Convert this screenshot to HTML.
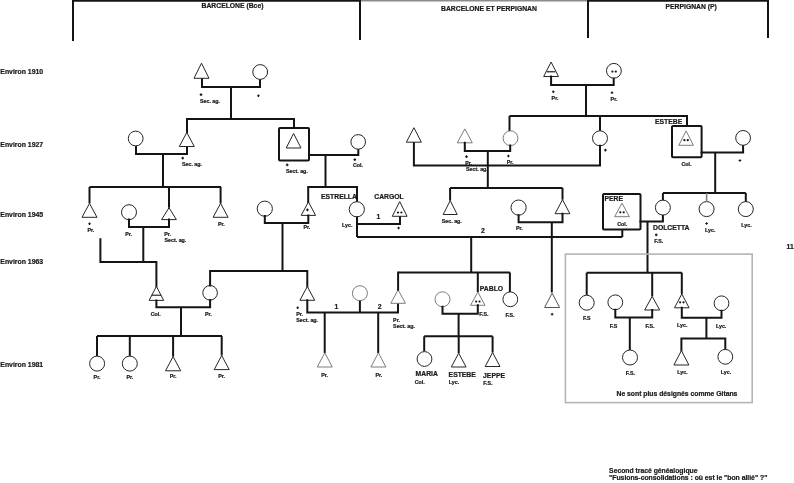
<!DOCTYPE html>
<html><head><meta charset="utf-8"><style>
html,body{margin:0;padding:0;background:#fff;}
svg{display:block;filter:grayscale(1);}
text{font-family:"Liberation Sans",sans-serif;stroke:#1a1a1a;stroke-width:0.22px;}
</style></head><body>
<svg width="794" height="483" viewBox="0 0 794 483">
<rect width="794" height="483" fill="#fff"/>
<line x1="72" y1="0.8" x2="360" y2="0.8" stroke="#141414" stroke-width="1.7"/>
<line x1="360" y1="0.8" x2="588" y2="0.8" stroke="#8c8c8c" stroke-width="1.5"/>
<line x1="588" y1="0.8" x2="769" y2="0.8" stroke="#141414" stroke-width="1.7"/>
<line x1="73" y1="0" x2="73" y2="41" stroke="#141414" stroke-width="2"/>
<line x1="360" y1="0" x2="360" y2="40" stroke="#141414" stroke-width="2"/>
<line x1="588" y1="0" x2="588" y2="38" stroke="#141414" stroke-width="2"/>
<line x1="768" y1="0" x2="768" y2="38" stroke="#141414" stroke-width="2"/>
<text x="201.5" y="8.2" font-size="6.8" fill="#1a1a1a" font-weight="bold" text-anchor="start">BARCELONE (Bce)</text>
<text x="441" y="10.6" font-size="6.8" fill="#1a1a1a" font-weight="bold" text-anchor="start">BARCELONE ET PERPIGNAN</text>
<text x="665.5" y="8.7" font-size="6.8" fill="#1a1a1a" font-weight="bold" text-anchor="start">PERPIGNAN (P)</text>
<text x="0.3" y="74" font-size="6.9" fill="#1a1a1a" font-weight="bold" text-anchor="start">Environ 1910</text>
<text x="0.3" y="146.5" font-size="6.9" fill="#1a1a1a" font-weight="bold" text-anchor="start">Environ 1927</text>
<text x="0.3" y="217" font-size="6.9" fill="#1a1a1a" font-weight="bold" text-anchor="start">Environ 1945</text>
<text x="0.3" y="264" font-size="6.9" fill="#1a1a1a" font-weight="bold" text-anchor="start">Environ 1963</text>
<text x="0.3" y="366.7" font-size="6.9" fill="#1a1a1a" font-weight="bold" text-anchor="start">Environ 1981</text>
<polyline points="202,78 202,87 260,87 260,79.5" fill="none" stroke="#141414" stroke-width="2" stroke-linejoin="miter" stroke-linecap="square"/>
<line x1="231" y1="87" x2="231" y2="119" stroke="#141414" stroke-width="2"/>
<polygon points="201.5,63.2 194.0,78.3 209.0,78.3" fill="white" stroke="#262626" stroke-width="1.0" stroke-linejoin="miter"/>
<circle cx="260.2" cy="72" r="7.4" fill="white" stroke="#262626" stroke-width="1.0"/>
<path d="M199.7 94.6H202.3M201 93.3V95.89999999999999" stroke="#141414" stroke-width="1.1"/>
<text x="200" y="103.3" font-size="5.3" fill="#1a1a1a" font-weight="bold" text-anchor="start">Sec. ag.</text>
<path d="M257.09999999999997 95.8H259.7M258.4 94.5V97.1" stroke="#141414" stroke-width="1.1"/>
<polyline points="187,132.5 187,119 294,119 294,127.5" fill="none" stroke="#141414" stroke-width="2" stroke-linejoin="miter" stroke-linecap="square"/>
<polyline points="136,146 136,154 187,154 187,146.5" fill="none" stroke="#141414" stroke-width="2" stroke-linejoin="miter" stroke-linecap="square"/>
<line x1="163" y1="154" x2="163" y2="187" stroke="#141414" stroke-width="2"/>
<polygon points="186.8,132.5 179.3,146.5 194.3,146.5" fill="white" stroke="#262626" stroke-width="1.0" stroke-linejoin="miter"/>
<circle cx="135.7" cy="138.5" r="7.4" fill="white" stroke="#262626" stroke-width="1.0"/>
<path d="M181.39999999999998 158.1H184.0M182.7 156.79999999999998V159.4" stroke="#141414" stroke-width="1.1"/>
<text x="182" y="165.8" font-size="5.3" fill="#1a1a1a" font-weight="bold" text-anchor="start">Sec. ag.</text>
<rect x="279" y="128" width="30" height="32.5" rx="1" fill="white" stroke="#141414" stroke-width="2"/>
<polygon points="293.6,133.5 286.20000000000005,148 301.0,148" fill="white" stroke="#262626" stroke-width="1.0" stroke-linejoin="miter"/>
<polyline points="309,155 358.3,155 358.3,149" fill="none" stroke="#141414" stroke-width="2" stroke-linejoin="miter" stroke-linecap="square"/>
<circle cx="358.2" cy="141.9" r="7.3" fill="white" stroke="#262626" stroke-width="1.0"/>
<line x1="325.5" y1="155" x2="325.5" y2="187" stroke="#141414" stroke-width="2"/>
<path d="M285.9 164.9H288.5M287.2 163.6V166.20000000000002" stroke="#141414" stroke-width="1.1"/>
<text x="286" y="173.3" font-size="5.3" fill="#1a1a1a" font-weight="bold" text-anchor="start">Sect. ag.</text>
<path d="M353.5 159.6H356.1M354.8 158.29999999999998V160.9" stroke="#141414" stroke-width="1.1"/>
<text x="353" y="167.2" font-size="5.3" fill="#1a1a1a" font-weight="bold" text-anchor="start">Col.</text>
<line x1="89.5" y1="187" x2="221" y2="187" stroke="#141414" stroke-width="2"/>
<line x1="89.5" y1="187" x2="89.5" y2="203.4" stroke="#141414" stroke-width="2"/>
<polygon points="89.5,203.4 82.0,217.3 97.0,217.3" fill="white" stroke="#262626" stroke-width="1.0" stroke-linejoin="miter"/>
<path d="M88.2 223.8H90.8M89.5 222.5V225.10000000000002" stroke="#141414" stroke-width="1.1"/>
<text x="87.5" y="231.9" font-size="5.3" fill="#1a1a1a" font-weight="bold" text-anchor="start">Pr.</text>
<circle cx="129" cy="212.2" r="7.5" fill="white" stroke="#262626" stroke-width="1.0"/>
<line x1="169" y1="187" x2="169" y2="207.7" stroke="#141414" stroke-width="2"/>
<polygon points="169,207.7 161.6,219.6 176.4,219.6" fill="white" stroke="#262626" stroke-width="1.0" stroke-linejoin="miter"/>
<line x1="220.6" y1="187" x2="220.6" y2="203.4" stroke="#141414" stroke-width="2"/>
<polygon points="220.6,203.4 213.1,217.3 228.1,217.3" fill="white" stroke="#262626" stroke-width="1.0" stroke-linejoin="miter"/>
<text x="217.9" y="226.2" font-size="5.3" fill="#1a1a1a" font-weight="bold" text-anchor="start">Pr.</text>
<polyline points="129,219.6 129,227 169,227 169,219.6" fill="none" stroke="#141414" stroke-width="2" stroke-linejoin="miter" stroke-linecap="square"/>
<line x1="143.3" y1="227" x2="143.3" y2="262" stroke="#141414" stroke-width="2"/>
<text x="125.2" y="235.9" font-size="5.3" fill="#1a1a1a" font-weight="bold" text-anchor="start">Pr.</text>
<text x="164.2" y="235.9" font-size="5.3" fill="#1a1a1a" font-weight="bold" text-anchor="start">Pr.</text>
<text x="164.5" y="242" font-size="5.3" fill="#1a1a1a" font-weight="bold" text-anchor="start">Sect. ag.</text>
<polyline points="100.4,239.3 100.4,262 156.4,262 156.4,286.4" fill="none" stroke="#141414" stroke-width="2" stroke-linejoin="miter" stroke-linecap="square"/>
<polyline points="308.2,201.9 308.2,187 357,187 357,201.5" fill="none" stroke="#141414" stroke-width="2" stroke-linejoin="miter" stroke-linecap="square"/>
<circle cx="264.8" cy="208.7" r="7.6" fill="white" stroke="#262626" stroke-width="1.0"/>
<polygon points="308.4,201.9 301.2,215.4 315.59999999999997,215.4" fill="white" stroke="#262626" stroke-width="1.0" stroke-linejoin="miter"/>
<path d="M306.09999999999997 209.9H308.7M307.4 208.6V211.20000000000002" stroke="#141414" stroke-width="1.1"/>
<polyline points="264.8,216 264.8,223 308.3,223 308.3,215.4" fill="none" stroke="#141414" stroke-width="2" stroke-linejoin="miter" stroke-linecap="square"/>
<line x1="282.5" y1="223" x2="282.5" y2="271" stroke="#141414" stroke-width="2"/>
<text x="321" y="198.9" font-size="6.8" fill="#1a1a1a" font-weight="bold" text-anchor="start">ESTRELLA</text>
<circle cx="356.8" cy="209.3" r="7.6" fill="white" stroke="#262626" stroke-width="1.0"/>
<text x="303.5" y="229.2" font-size="5.3" fill="#1a1a1a" font-weight="bold" text-anchor="start">Pr.</text>
<text x="342" y="226.5" font-size="5.3" fill="#1a1a1a" font-weight="bold" text-anchor="start">Lyc.</text>
<line x1="357" y1="216.5" x2="357" y2="237" stroke="#141414" stroke-width="2"/>
<polyline points="357,224 400,224 400,216" fill="none" stroke="#141414" stroke-width="2" stroke-linejoin="miter" stroke-linecap="square"/>
<polygon points="399.7,201.6 392.3,216.3 407.09999999999997,216.3" fill="white" stroke="#262626" stroke-width="1.0" stroke-linejoin="miter"/>
<circle cx="398.0" cy="212.5" r="1.1" fill="#141414"/><circle cx="401.4" cy="212.5" r="1.1" fill="#141414"/>
<text x="374.3" y="198.9" font-size="6.8" fill="#1a1a1a" font-weight="bold" text-anchor="start">CARGOL</text>
<text x="378.5" y="219.3" font-size="6.8" fill="#1a1a1a" font-weight="bold" text-anchor="middle">1</text>
<path d="M397.3 228H399.90000000000003M398.6 226.7V229.3" stroke="#141414" stroke-width="1.1"/>
<line x1="357" y1="237" x2="622.3" y2="237" stroke="#141414" stroke-width="2"/>
<text x="483" y="233" font-size="6.8" fill="#1a1a1a" font-weight="bold" text-anchor="middle">2</text>
<polygon points="156.4,286.4 149.1,300.4 163.70000000000002,300.4" fill="white" stroke="#262626" stroke-width="1.0" stroke-linejoin="miter"/>
<line x1="151.7" y1="295.2" x2="161.1" y2="295.2" stroke="#141414" stroke-width="1.1"/>
<circle cx="210.1" cy="292.8" r="7.3" fill="white" stroke="#262626" stroke-width="1.0"/>
<polyline points="156.4,300.4 156.4,307.3 210.1,307.3 210.1,300" fill="none" stroke="#141414" stroke-width="2" stroke-linejoin="miter" stroke-linecap="square"/>
<line x1="181" y1="307.3" x2="181" y2="336" stroke="#141414" stroke-width="2"/>
<polyline points="210.1,285.5 210.1,271 307.3,271 307.3,286.5" fill="none" stroke="#141414" stroke-width="2" stroke-linejoin="miter" stroke-linecap="square"/>
<text x="150.8" y="315.5" font-size="5.3" fill="#1a1a1a" font-weight="bold" text-anchor="start">Col.</text>
<text x="205" y="315.8" font-size="5.3" fill="#1a1a1a" font-weight="bold" text-anchor="start">Pr.</text>
<polygon points="307.3,286.5 299.90000000000003,300.3 314.7,300.3" fill="white" stroke="#262626" stroke-width="1.0" stroke-linejoin="miter"/>
<polyline points="307.3,300.3 307.3,312.6 398,312.6 398,303.3" fill="none" stroke="#141414" stroke-width="2" stroke-linejoin="miter" stroke-linecap="square"/>
<circle cx="359.9" cy="293.2" r="7.5" fill="white" stroke="#7c7c7c" stroke-width="1.0"/>
<line x1="359.9" y1="300.7" x2="359.9" y2="312.6" stroke="#141414" stroke-width="2"/>
<polygon points="398.1,289.7 390.8,303.3 405.40000000000003,303.3" fill="white" stroke="#7c7c7c" stroke-width="1.0" stroke-linejoin="miter"/>
<polyline points="398.1,289.7 398.1,272.6" fill="none" stroke="#141414" stroke-width="2" stroke-linejoin="miter" stroke-linecap="square"/>
<text x="336.4" y="309.4" font-size="6.8" fill="#1a1a1a" font-weight="bold" text-anchor="middle">1</text>
<text x="379.6" y="308.7" font-size="6.8" fill="#1a1a1a" font-weight="bold" text-anchor="middle">2</text>
<path d="M296.4 307.8H299.0M297.7 306.5V309.1" stroke="#141414" stroke-width="1.1"/>
<text x="296.3" y="315.5" font-size="5.3" fill="#1a1a1a" font-weight="bold" text-anchor="start">Pr.</text>
<text x="296.3" y="321.5" font-size="5.3" fill="#1a1a1a" font-weight="bold" text-anchor="start">Sect. ag.</text>
<text x="393.1" y="322" font-size="5.3" fill="#1a1a1a" font-weight="bold" text-anchor="start">Pr.</text>
<text x="393.1" y="328" font-size="5.3" fill="#1a1a1a" font-weight="bold" text-anchor="start">Sect. ag.</text>
<line x1="324.7" y1="312.6" x2="324.7" y2="353.1" stroke="#141414" stroke-width="2"/>
<line x1="378.2" y1="312.6" x2="378.2" y2="353.1" stroke="#141414" stroke-width="2"/>
<polygon points="324.8,352.8 317.3,367 332.3,367" fill="white" stroke="#7c7c7c" stroke-width="1.0" stroke-linejoin="miter"/>
<polygon points="378.4,352.8 370.9,367 385.9,367" fill="white" stroke="#7c7c7c" stroke-width="1.0" stroke-linejoin="miter"/>
<text x="321.3" y="377" font-size="5.3" fill="#1a1a1a" font-weight="bold" text-anchor="start">Pr.</text>
<text x="375.5" y="377" font-size="5.3" fill="#1a1a1a" font-weight="bold" text-anchor="start">Pr.</text>
<line x1="97" y1="336" x2="222" y2="336" stroke="#141414" stroke-width="2"/>
<line x1="97" y1="336" x2="97" y2="356" stroke="#141414" stroke-width="2"/>
<line x1="129.8" y1="336" x2="129.8" y2="356" stroke="#141414" stroke-width="2"/>
<line x1="173.1" y1="336" x2="173.1" y2="356.5" stroke="#141414" stroke-width="2"/>
<line x1="221.7" y1="336" x2="221.7" y2="355.5" stroke="#141414" stroke-width="2"/>
<circle cx="97.1" cy="363.6" r="7.5" fill="white" stroke="#262626" stroke-width="1.0"/>
<circle cx="129.8" cy="363.6" r="7.5" fill="white" stroke="#262626" stroke-width="1.0"/>
<polygon points="173.1,356.5 165.5,370.8 180.7,370.8" fill="white" stroke="#262626" stroke-width="1.0" stroke-linejoin="miter"/>
<polygon points="221.7,355.5 214.2,369.6 229.2,369.6" fill="white" stroke="#262626" stroke-width="1.0" stroke-linejoin="miter"/>
<text x="97" y="378.6" font-size="5.3" fill="#1a1a1a" font-weight="bold" text-anchor="middle">Pr.</text>
<text x="129.8" y="379.3" font-size="5.3" fill="#1a1a1a" font-weight="bold" text-anchor="middle">Pr.</text>
<text x="173.2" y="378.2" font-size="5.3" fill="#1a1a1a" font-weight="bold" text-anchor="middle">Pr.</text>
<text x="221.7" y="378.2" font-size="5.3" fill="#1a1a1a" font-weight="bold" text-anchor="middle">Pr.</text>
<polygon points="551.1,62 543.7,76.5 558.5,76.5" fill="white" stroke="#262626" stroke-width="1.0" stroke-linejoin="miter"/>
<line x1="546.9" y1="71.7" x2="555.3" y2="71.7" stroke="#444" stroke-width="1.5"/>
<circle cx="613.9" cy="70.8" r="7.4" fill="white" stroke="#262626" stroke-width="1.0"/>
<circle cx="612.4" cy="71.6" r="1.1" fill="#141414"/><circle cx="615.8000000000001" cy="71.6" r="1.1" fill="#141414"/>
<polyline points="551.1,76.5 551.1,85 613.7,85 613.7,78.8" fill="none" stroke="#141414" stroke-width="2" stroke-linejoin="miter" stroke-linecap="square"/>
<line x1="586" y1="85" x2="586" y2="116" stroke="#141414" stroke-width="2"/>
<path d="M552.0 91.8H554.5999999999999M553.3 90.5V93.1" stroke="#141414" stroke-width="1.1"/>
<text x="551.6" y="100.4" font-size="5.3" fill="#1a1a1a" font-weight="bold" text-anchor="start">Pr.</text>
<path d="M610.7 92.8H613.3M612 91.5V94.1" stroke="#141414" stroke-width="1.1"/>
<text x="610.6" y="101.3" font-size="5.3" fill="#1a1a1a" font-weight="bold" text-anchor="start">Pr.</text>
<line x1="509.5" y1="116" x2="688" y2="116" stroke="#141414" stroke-width="2"/>
<polygon points="413.9,127.7 406.4,142.2 421.4,142.2" fill="white" stroke="#262626" stroke-width="1.0" stroke-linejoin="miter"/>
<line x1="413.9" y1="142.2" x2="413.9" y2="165.5" stroke="#141414" stroke-width="2"/>
<polygon points="464.8,128.9 457.3,142.8 472.3,142.8" fill="white" stroke="#7c7c7c" stroke-width="1.0" stroke-linejoin="miter"/>
<circle cx="510.5" cy="138.2" r="7.4" fill="white" stroke="#7c7c7c" stroke-width="1.0"/>
<line x1="509.5" y1="116" x2="509.5" y2="130.8" stroke="#141414" stroke-width="2"/>
<polyline points="464.8,142.8 464.8,151 510.2,151 510.2,145.6" fill="none" stroke="#141414" stroke-width="2" stroke-linejoin="miter" stroke-linecap="square"/>
<line x1="487.8" y1="151" x2="487.8" y2="188" stroke="#141414" stroke-width="2"/>
<circle cx="600" cy="138.3" r="7.5" fill="white" stroke="#262626" stroke-width="1.0"/>
<line x1="600" y1="116" x2="600" y2="130.8" stroke="#141414" stroke-width="2"/>
<polyline points="413.9,165.5 600,165.5 600,145.8" fill="none" stroke="#141414" stroke-width="2" stroke-linejoin="miter" stroke-linecap="square"/>
<path d="M465.2 156.6H467.8M466.5 155.29999999999998V157.9" stroke="#141414" stroke-width="1.1"/>
<text x="465.2" y="164.6" font-size="5.3" fill="#1a1a1a" font-weight="bold" text-anchor="start">Pr.</text>
<text x="466" y="171.1" font-size="5.3" fill="#1a1a1a" font-weight="bold" text-anchor="start">Sect. ag.</text>
<path d="M507.09999999999997 156H509.7M508.4 154.7V157.3" stroke="#141414" stroke-width="1.1"/>
<text x="506.7" y="164.1" font-size="5.3" fill="#1a1a1a" font-weight="bold" text-anchor="start">Pr.</text>
<path d="M604.1 150.1H606.6999999999999M605.4 148.79999999999998V151.4" stroke="#141414" stroke-width="1.1"/>
<line x1="687" y1="116" x2="687" y2="126" stroke="#141414" stroke-width="2"/>
<rect x="672" y="126" width="29.600000000000023" height="31.30000000000001" rx="1" fill="white" stroke="#141414" stroke-width="2"/>
<polygon points="686.1,130.9 678.8000000000001,145.3 693.4,145.3" fill="white" stroke="#7c7c7c" stroke-width="1.0" stroke-linejoin="miter"/>
<circle cx="684.4" cy="140.2" r="1.1" fill="#141414"/><circle cx="687.8000000000001" cy="140.2" r="1.1" fill="#141414"/>
<text x="655" y="124.2" font-size="6.8" fill="#1a1a1a" font-weight="bold" text-anchor="start">ESTEBE</text>
<text x="681.5" y="165.9" font-size="5.3" fill="#1a1a1a" font-weight="bold" text-anchor="start">Col.</text>
<polyline points="701.6,152.4 743.1,152.4 743.1,145.3" fill="none" stroke="#141414" stroke-width="2" stroke-linejoin="miter" stroke-linecap="square"/>
<circle cx="743.1" cy="137.9" r="7.4" fill="white" stroke="#262626" stroke-width="1.0"/>
<path d="M738.6 160.5H741.1999999999999M739.9 159.2V161.8" stroke="#141414" stroke-width="1.1"/>
<line x1="715.2" y1="152.4" x2="715.2" y2="193" stroke="#141414" stroke-width="2"/>
<line x1="450.1" y1="188" x2="562.5" y2="188" stroke="#141414" stroke-width="2"/>
<line x1="450.1" y1="188" x2="450.1" y2="200.6" stroke="#141414" stroke-width="2"/>
<polygon points="450.2,200.6 443.2,214.5 457.2,214.5" fill="white" stroke="#262626" stroke-width="1.0" stroke-linejoin="miter"/>
<text x="441.8" y="223.3" font-size="5.3" fill="#1a1a1a" font-weight="bold" text-anchor="start">Sec. ag.</text>
<circle cx="518.6" cy="207.6" r="7.6" fill="white" stroke="#262626" stroke-width="1.0"/>
<line x1="562.5" y1="188" x2="562.5" y2="199.7" stroke="#141414" stroke-width="2"/>
<polygon points="562.5,199.7 555.1,213.7 569.9,213.7" fill="white" stroke="#262626" stroke-width="1.0" stroke-linejoin="miter"/>
<polyline points="518.6,215.2 518.6,222.3 562.5,222.3 562.5,213.7" fill="none" stroke="#141414" stroke-width="2" stroke-linejoin="miter" stroke-linecap="square"/>
<line x1="551.8" y1="222.3" x2="551.8" y2="292.5" stroke="#141414" stroke-width="2"/>
<text x="516" y="230.3" font-size="5.3" fill="#1a1a1a" font-weight="bold" text-anchor="start">Pr.</text>
<polygon points="552.1,293.2 544.6,307.5 559.6,307.5" fill="white" stroke="#555" stroke-width="1.0" stroke-linejoin="miter"/>
<path d="M550.8000000000001 314.3H553.4M552.1 313.0V315.6" stroke="#141414" stroke-width="1.1"/>
<rect x="603" y="194" width="37.5" height="35.599999999999994" rx="1" fill="white" stroke="#141414" stroke-width="2"/>
<text x="604.5" y="201.4" font-size="6.8" fill="#1a1a1a" font-weight="bold" text-anchor="start">PERE</text>
<polygon points="622,203.2 614.6,216.7 629.4,216.7" fill="white" stroke="#7c7c7c" stroke-width="1.0" stroke-linejoin="miter"/>
<circle cx="620.3" cy="212.3" r="1.1" fill="#141414"/><circle cx="623.7" cy="212.3" r="1.1" fill="#141414"/>
<text x="617.2" y="225.7" font-size="5.3" fill="#1a1a1a" font-weight="bold" text-anchor="start">Col.</text>
<polyline points="640.5,221.5 662.9,221.5 662.9,215" fill="none" stroke="#141414" stroke-width="2" stroke-linejoin="miter" stroke-linecap="square"/>
<circle cx="662.9" cy="207.6" r="7.5" fill="white" stroke="#262626" stroke-width="1.0"/>
<line x1="622.3" y1="229.6" x2="622.3" y2="237" stroke="#141414" stroke-width="2"/>
<line x1="647.5" y1="221.5" x2="647.5" y2="272.8" stroke="#141414" stroke-width="2"/>
<line x1="662.9" y1="193" x2="745.8" y2="193" stroke="#141414" stroke-width="2"/>
<line x1="662.9" y1="193" x2="662.9" y2="200.2" stroke="#141414" stroke-width="2"/>
<circle cx="706.6" cy="209.1" r="7.5" fill="white" stroke="#262626" stroke-width="1.0"/>
<line x1="706.6" y1="193" x2="706.6" y2="201.6" stroke="#7c7c7c" stroke-width="1.5"/>
<circle cx="745.8" cy="209.1" r="7.5" fill="white" stroke="#262626" stroke-width="1.0"/>
<line x1="745.8" y1="193" x2="745.8" y2="201.6" stroke="#141414" stroke-width="2"/>
<text x="653" y="230" font-size="6.8" fill="#1a1a1a" font-weight="bold" text-anchor="start">DOLCETTA</text>
<path d="M654.9000000000001 234.9H657.5M656.2 233.6V236.20000000000002" stroke="#141414" stroke-width="1.1"/>
<text x="654.2" y="242.9" font-size="5.3" fill="#1a1a1a" font-weight="bold" text-anchor="start">F.S.</text>
<path d="M705.3000000000001 223.5H707.9M706.6 222.2V224.8" stroke="#141414" stroke-width="1.1"/>
<text x="705" y="232.1" font-size="5.3" fill="#1a1a1a" font-weight="bold" text-anchor="start">Lyc.</text>
<text x="741.3" y="226.8" font-size="5.3" fill="#1a1a1a" font-weight="bold" text-anchor="start">Lyc.</text>
<text x="786.5" y="249.2" font-size="6.8" fill="#1a1a1a" font-weight="bold" text-anchor="start">11</text>
<rect x="565.4" y="254.1" width="186.8" height="148.5" fill="none" stroke="#b4b4b4" stroke-width="1.6"/>
<line x1="586.7" y1="272.7" x2="681.8" y2="272.7" stroke="#141414" stroke-width="2"/>
<line x1="586.7" y1="272.7" x2="586.7" y2="295" stroke="#141414" stroke-width="2"/>
<circle cx="586.7" cy="302.7" r="7.5" fill="white" stroke="#262626" stroke-width="1.0"/>
<circle cx="615.3" cy="302.3" r="7.4" fill="white" stroke="#262626" stroke-width="1.0"/>
<line x1="652.2" y1="272.7" x2="652.2" y2="296.3" stroke="#141414" stroke-width="2"/>
<polygon points="652.2,296.3 644.7,310 659.7,310" fill="white" stroke="#262626" stroke-width="1.0" stroke-linejoin="miter"/>
<line x1="681.8" y1="272.7" x2="681.8" y2="293.9" stroke="#141414" stroke-width="2"/>
<polygon points="681.8,293.9 674.5,307.8 689.0999999999999,307.8" fill="white" stroke="#262626" stroke-width="1.0" stroke-linejoin="miter"/>
<circle cx="680.0999999999999" cy="302.3" r="1.1" fill="#141414"/><circle cx="683.5" cy="302.3" r="1.1" fill="#141414"/>
<circle cx="721.5" cy="303.3" r="7.4" fill="white" stroke="#262626" stroke-width="1.0"/>
<polyline points="615.3,309.7 615.3,317.4 652.2,317.4 652.2,310" fill="none" stroke="#141414" stroke-width="2" stroke-linejoin="miter" stroke-linecap="square"/>
<line x1="629.8" y1="317.4" x2="629.8" y2="350" stroke="#141414" stroke-width="2"/>
<polyline points="681.8,307.8 681.8,317.8 721.5,317.8 721.5,310.7" fill="none" stroke="#141414" stroke-width="2" stroke-linejoin="miter" stroke-linecap="square"/>
<line x1="706.4" y1="317.8" x2="706.4" y2="338.6" stroke="#141414" stroke-width="2"/>
<text x="582.9" y="320.3" font-size="5.3" fill="#1a1a1a" font-weight="bold" text-anchor="start">F.S</text>
<text x="609.7" y="327.8" font-size="5.3" fill="#1a1a1a" font-weight="bold" text-anchor="start">F.S</text>
<text x="645.4" y="327.8" font-size="5.3" fill="#1a1a1a" font-weight="bold" text-anchor="start">F.S.</text>
<text x="677" y="327" font-size="5.3" fill="#1a1a1a" font-weight="bold" text-anchor="start">Lyc.</text>
<text x="715.9" y="328" font-size="5.3" fill="#1a1a1a" font-weight="bold" text-anchor="start">Lyc.</text>
<circle cx="630" cy="357.5" r="7.5" fill="white" stroke="#262626" stroke-width="1.0"/>
<polyline points="681.4,350.6 681.4,338.6 725.3,338.6 725.3,349.3" fill="none" stroke="#141414" stroke-width="2" stroke-linejoin="miter" stroke-linecap="square"/>
<polygon points="681.4,350.6 673.9,365 688.9,365" fill="white" stroke="#262626" stroke-width="1.0" stroke-linejoin="miter"/>
<circle cx="725.3" cy="356.8" r="7.4" fill="white" stroke="#262626" stroke-width="1.0"/>
<text x="625.8" y="375" font-size="5.3" fill="#1a1a1a" font-weight="bold" text-anchor="start">F.S.</text>
<text x="677.2" y="374.4" font-size="5.3" fill="#1a1a1a" font-weight="bold" text-anchor="start">Lyc.</text>
<text x="720.8" y="374.4" font-size="5.3" fill="#1a1a1a" font-weight="bold" text-anchor="start">Lyc.</text>
<text x="616.5" y="396" font-size="6.8" fill="#1a1a1a" font-weight="bold" text-anchor="start">Ne sont plus désignés comme Gitans</text>
<line x1="471.2" y1="237" x2="471.2" y2="272.5" stroke="#141414" stroke-width="2"/>
<line x1="398.1" y1="272.5" x2="509.9" y2="272.5" stroke="#141414" stroke-width="2"/>
<line x1="477.8" y1="272.5" x2="477.8" y2="292" stroke="#141414" stroke-width="2"/>
<polygon points="477.8,292 470.6,305.3 485.0,305.3" fill="white" stroke="#7c7c7c" stroke-width="1.0" stroke-linejoin="miter"/>
<circle cx="476.1" cy="301.5" r="1.1" fill="#141414"/><circle cx="479.5" cy="301.5" r="1.1" fill="#141414"/>
<text x="479.8" y="290.7" font-size="6.8" fill="#1a1a1a" font-weight="bold" text-anchor="start">PABLO</text>
<line x1="509.9" y1="272.5" x2="509.9" y2="292" stroke="#141414" stroke-width="2"/>
<circle cx="510.3" cy="299.3" r="7.4" fill="white" stroke="#262626" stroke-width="1.0"/>
<circle cx="442.5" cy="299.3" r="7.5" fill="white" stroke="#7c7c7c" stroke-width="1.0"/>
<polyline points="442.5,306.8 442.5,313.7 477.8,313.7 477.8,305.3" fill="none" stroke="#141414" stroke-width="2" stroke-linejoin="miter" stroke-linecap="square"/>
<line x1="458.6" y1="313.7" x2="458.6" y2="336.3" stroke="#141414" stroke-width="2"/>
<text x="479.3" y="315.8" font-size="5.3" fill="#1a1a1a" font-weight="bold" text-anchor="start">F.S.</text>
<text x="505.4" y="316.9" font-size="5.3" fill="#1a1a1a" font-weight="bold" text-anchor="start">F.S.</text>
<line x1="424.2" y1="336.3" x2="492.6" y2="336.3" stroke="#141414" stroke-width="2"/>
<line x1="424.2" y1="336.3" x2="424.2" y2="351.5" stroke="#141414" stroke-width="2"/>
<circle cx="424.5" cy="359" r="7.4" fill="white" stroke="#262626" stroke-width="1.0"/>
<line x1="458.7" y1="336.3" x2="458.7" y2="353.1" stroke="#141414" stroke-width="2"/>
<polygon points="458.7,353.1 451.3,367 466.09999999999997,367" fill="white" stroke="#262626" stroke-width="1.0" stroke-linejoin="miter"/>
<line x1="492.6" y1="336.3" x2="492.6" y2="352.5" stroke="#141414" stroke-width="2"/>
<polygon points="492.6,352.5 485.20000000000005,366.5 500.0,366.5" fill="white" stroke="#262626" stroke-width="1.0" stroke-linejoin="miter"/>
<text x="415.6" y="376.2" font-size="6.8" fill="#1a1a1a" font-weight="bold" text-anchor="start">MARIA</text>
<text x="414.7" y="384.2" font-size="5.3" fill="#1a1a1a" font-weight="bold" text-anchor="start">Col.</text>
<text x="448.6" y="377.3" font-size="6.8" fill="#1a1a1a" font-weight="bold" text-anchor="start">ESTEBE</text>
<text x="448.8" y="384.2" font-size="5.3" fill="#1a1a1a" font-weight="bold" text-anchor="start">Lyc.</text>
<text x="483.1" y="378.2" font-size="6.8" fill="#1a1a1a" font-weight="bold" text-anchor="start">JEPPE</text>
<text x="483.3" y="384.8" font-size="5.3" fill="#1a1a1a" font-weight="bold" text-anchor="start">F.S.</text>
<text x="609.1" y="473.3" font-size="6.8" fill="#1a1a1a" font-weight="bold" text-anchor="start">Second tracé généalogique</text>
<text x="609.1" y="480.4" font-size="6.8" fill="#1a1a1a" font-weight="bold" text-anchor="start">"Fusions-consolidations : où est le "bon allié" ?"</text>
</svg>
</body></html>
